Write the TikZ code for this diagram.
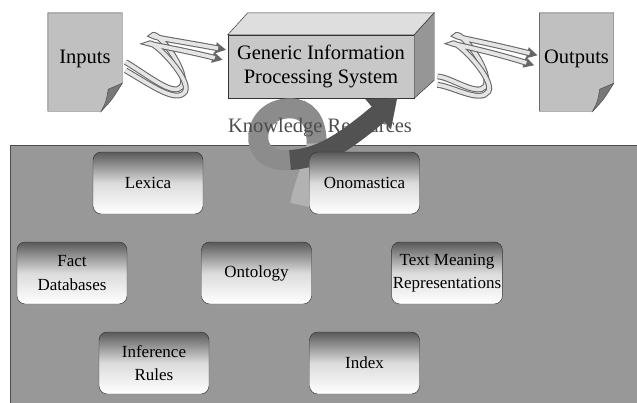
\documentclass[tikz,border=0pt]{standalone}
\usepackage{fontspec}
\setmainfont{Liberation Serif}
\usepackage{tikz}
\usetikzlibrary{arrows.meta, calc, positioning}

\definecolor{panelgray}{RGB}{152,152,152}
\definecolor{pagegray}{RGB}{192,192,192}
\definecolor{flapgray}{RGB}{120,120,120}
\definecolor{frontgray}{RGB}{200,200,200}
\definecolor{topgray}{RGB}{222,222,222}
\definecolor{sidegray}{RGB}{150,150,150}

\tikzset{
    resbox/.style={draw=black!80, rounded corners=7pt, minimum width=3.3cm, minimum height=1.86cm,
        top color=black!65, bottom color=white, middle color=black!14, shading angle=0,
        align=center, font=\rmfamily\fontsize{14.5}{20}\selectfont, inner sep=1pt},
    topfont/.style={font=\rmfamily\fontsize{17.5}{21}\selectfont},
    ribbon/.style={line width=5pt, draw=black!60, -{Triangle[length=9pt,width=9pt]},
        postaction={draw=black!10, line width=3.2pt, -, shorten >=7pt}}
}

\begin{document}
\begin{tikzpicture}
    \useasboundingbox (0, 0) rectangle (19.11, -12.06);

    % knowledge panel
    \draw[fill=panelgray, draw=black!70, line width=0.8pt] (0.3, -4.35) rectangle (19.3, -12.3);

    % pages
    \node[topfont, minimum width=2.22cm, minimum height=2.94cm] (inputs) at (2.55, -1.86) {};
    \node[topfont, minimum width=2.22cm, minimum height=2.94cm] (outputs) at (17.295, -1.86) {};
    \foreach \p in {inputs, outputs} {
        \draw[fill=pagegray, draw=black!80]
            (\p.north west) -- (\p.north east) -- ($(\p.south east)+(0, 0.84)$)
            -- ($(\p.south east)+(-0.63, 0)$) -- (\p.south west) -- cycle;
        \draw[fill=flapgray, draw=black!70]
            ($(\p.south east)+(0, 0.84)$) -- ($(\p.south east)+(-0.42, 0.66)$)
            .. controls ($(\p.south east)+(-0.48, 0.3)$) .. ($(\p.south east)+(-0.63, 0)$)
            .. controls ($(\p.south east)+(-0.3, 0.35)$) .. cycle;
    }
    \node[topfont] () at ($(inputs.center)+(0, 0.1)$) {Inputs};
    \node[topfont] () at ($(outputs.center)+(0, 0.1)$) {Outputs};

    % processing system box
    \node[topfont, align=center, fill=frontgray, draw=black!80, minimum width=5.58cm, minimum height=1.89cm]
        (gips) at (9.63, -1.995) {Generic Information\\Processing System};
    \draw[fill=topgray, draw=black!80]
        (gips.north west) -- ++(0.6, 0.66) -- ($(gips.north east)+(0.6, 0.66)$) -- (gips.north east) -- cycle;
    \draw[fill=sidegray, draw=black!80]
        (gips.north east) -- ++(0.6, 0.66) -- ($(gips.south east)+(0.6, 0.54)$) -- (gips.south east) -- cycle;

    % swirl arrows
    \draw[ribbon] ($(inputs.east)+(0.1, 0.0)$) .. controls (4.5, -2.3) and (5.2, -2.9) .. (5.45, -2.6)
        .. controls (5.7, -2.2) and (4.8, -1.0) .. (4.6, -1.05) .. controls (4.4, -1.1) and (5.2, -1.2) .. ($(gips.west)+(-0.05, 0.5)$);
    \draw[ribbon] ($(inputs.east)+(0.1, -0.25)$) .. controls (4.6, -2.6) and (5.3, -3.1) .. (5.55, -2.75)
        .. controls (5.75, -2.4) and (4.7, -1.3) .. (4.5, -1.3) .. controls (4.3, -1.3) and (5.3, -1.45) .. ($(gips.west)+(-0.15, 0.2)$);
    \draw[ribbon] ($(gips.east)+(0.7, -0.3)$) .. controls (13.5, -2.3) and (14.3, -2.9) .. (14.55, -2.6)
        .. controls (14.8, -2.2) and (13.9, -1.0) .. (13.7, -1.05) .. controls (13.5, -1.1) and (14.3, -1.2) .. ($(outputs.west)+(-0.05, 0.2)$);
    \draw[ribbon] ($(gips.east)+(0.7, -0.55)$) .. controls (13.6, -2.6) and (14.4, -3.1) .. (14.65, -2.75)
        .. controls (14.85, -2.4) and (13.8, -1.3) .. (13.6, -1.3) .. controls (13.4, -1.3) and (14.4, -1.45) .. ($(outputs.west)+(-0.15, -0.1)$);

    % knowledge resources
    \coordinate (kstart) at (9.0, -6.15);
    \draw[line width=0.6cm, draw=black!30] (kstart) .. controls (9.15, -5.4) and (9.45, -4.9) .. (9.5, -4.3);
    \draw[line width=0.6cm, draw=black!45] (9.5, -4.3) .. controls (9.5, -3.6) and (9.2, -3.25) .. (8.7, -3.25)
        .. controls (8.0, -3.25) and (7.7, -3.8) .. (7.75, -4.2) .. controls (7.8, -4.7) and (8.3, -4.85) .. (8.7, -4.8);
    \node[topfont, text=black!70] (kr) at (9.6, -3.84) {Knowledge Resources};
    \draw[line width=0.6cm, draw=black!68, -{Triangle[length=0.75cm, width=1.15cm]}]
        (8.7, -4.8) .. controls (9.6, -4.75) and (10.3, -4.3) .. ($(gips.south east)+(-0.51, 0)$);

    % resource boxes
    \node[resbox] (lexica) at (4.44, -5.49) {Lexica};
    \node[resbox] (onomastica) at (10.935, -5.49) {Onomastica};
    \node[resbox] (fact) at (2.16, -8.19) {Fact\\Databases};
    \node[resbox] (ontology) at (7.695, -8.19) {Ontology};
    \node[resbox] (tmr) at (13.41, -8.19) {Text Meaning\\Representations};
    \node[resbox] (inference) at (4.62, -10.89) {Inference\\Rules};
    \node[resbox] (index) at (10.935, -10.89) {Index};
\end{tikzpicture}
\end{document}
